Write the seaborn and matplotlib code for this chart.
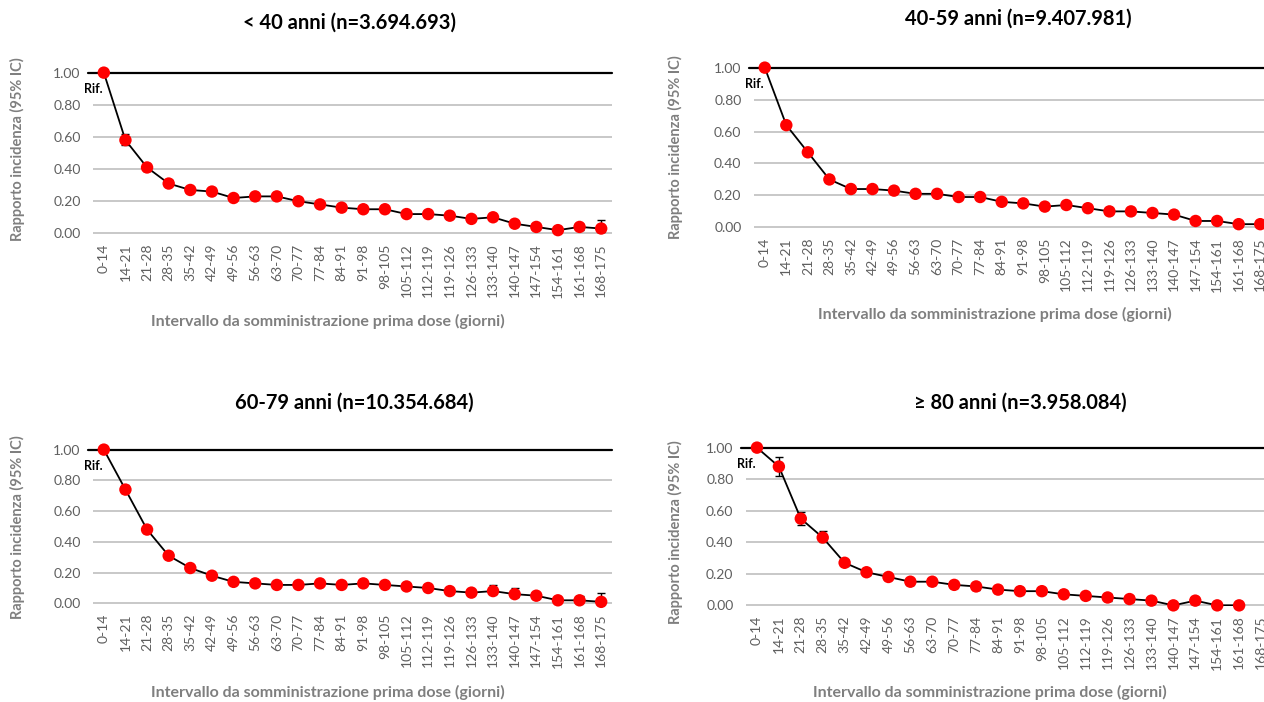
import numpy as np
import pandas as pd
import matplotlib.pyplot as plt
import seaborn as sns

intervalli = ['0-14', '14-21', '21-28', '28-35', '35-42', '42-49', '49-56', '56-63', '63-70',
              '70-77', '77-84', '84-91', '91-98', '98-105', '105-112', '112-119', '119-126',
              '126-133', '133-140', '140-147', '147-154', '154-161', '161-168', '168-175']

titoli = ['< 40 anni (n=3.694.693)', '40-59 anni (n=9.407.981)',
          '60-79 anni (n=10.354.684)', '\u2265 80 anni (n=3.958.084)']

# rapporto incidenza + IC 95%
rr_u40 = [1.00, 0.58, 0.41, 0.31, 0.27, 0.26, 0.22, 0.23, 0.23, 0.20, 0.18, 0.16,
          0.15, 0.15, 0.12, 0.12, 0.11, 0.09, 0.10, 0.06, 0.04, 0.02, 0.04, 0.03]
lo_u40 = [1.00, 0.55, 0.39, 0.30, 0.26, 0.25, 0.21, 0.22, 0.22, 0.19, 0.17, 0.15,
          0.14, 0.14, 0.11, 0.11, 0.10, 0.08, 0.09, 0.05, 0.03, 0.01, 0.02, 0.01]
hi_u40 = [1.00, 0.62, 0.43, 0.33, 0.29, 0.28, 0.23, 0.24, 0.24, 0.21, 0.19, 0.17,
          0.16, 0.16, 0.13, 0.13, 0.12, 0.10, 0.11, 0.07, 0.05, 0.03, 0.05, 0.08]

rr_40 = [1.00, 0.64, 0.47, 0.30, 0.24, 0.24, 0.23, 0.21, 0.21, 0.19, 0.19, 0.16,
         0.15, 0.13, 0.14, 0.12, 0.10, 0.10, 0.09, 0.08, 0.04, 0.04, 0.02, 0.02]
lo_40 = [1.00, 0.62, 0.45, 0.29, 0.23, 0.23, 0.22, 0.20, 0.20, 0.18, 0.18, 0.15,
         0.14, 0.12, 0.13, 0.11, 0.09, 0.09, 0.08, 0.07, 0.03, 0.03, 0.01, 0.01]
hi_40 = [1.00, 0.66, 0.49, 0.31, 0.25, 0.25, 0.24, 0.22, 0.22, 0.20, 0.20, 0.17,
         0.16, 0.14, 0.15, 0.13, 0.11, 0.11, 0.10, 0.09, 0.05, 0.05, 0.03, 0.03]

rr_60 = [1.00, 0.74, 0.48, 0.31, 0.23, 0.18, 0.14, 0.13, 0.12, 0.12, 0.13, 0.12,
         0.13, 0.12, 0.11, 0.10, 0.08, 0.07, 0.08, 0.06, 0.05, 0.02, 0.02, 0.01]
lo_60 = [1.00, 0.72, 0.46, 0.30, 0.22, 0.17, 0.13, 0.12, 0.11, 0.11, 0.12, 0.11,
         0.12, 0.11, 0.10, 0.09, 0.07, 0.06, 0.06, 0.04, 0.04, 0.01, 0.01, 0.00]
hi_60 = [1.00, 0.77, 0.50, 0.32, 0.24, 0.19, 0.15, 0.14, 0.13, 0.13, 0.14, 0.13,
         0.14, 0.13, 0.12, 0.11, 0.09, 0.09, 0.12, 0.10, 0.06, 0.03, 0.05, 0.07]

rr_80 = [1.00, 0.88, 0.55, 0.43, 0.27, 0.21, 0.18, 0.15, 0.15, 0.13, 0.12, 0.10,
         0.09, 0.09, 0.07, 0.06, 0.05, 0.04, 0.03, 0.00, 0.03, 0.00, 0.00, np.nan]
lo_80 = [1.00, 0.82, 0.51, 0.40, 0.25, 0.19, 0.16, 0.13, 0.13, 0.11, 0.10, 0.08,
         0.07, 0.07, 0.05, 0.04, 0.03, 0.02, 0.01, 0.00, 0.01, 0.00, 0.00, np.nan]
hi_80 = [1.00, 0.94, 0.59, 0.47, 0.29, 0.23, 0.20, 0.17, 0.17, 0.15, 0.14, 0.12,
         0.11, 0.11, 0.09, 0.08, 0.07, 0.06, 0.05, 0.01, 0.05, 0.01, 0.01, np.nan]

W, H = 1264, 702
GREY = '#7f7f7f'
TICK = '#5f5f5f'


def px_box(x0, x1, ytop, ybot):
    return [x0 / W, 1 - ybot / H, (x1 - x0) / W, (ybot - ytop) / H]


def draw_panel(ax, rr, lo, hi):
    df = pd.DataFrame({'pos': np.arange(len(intervalli)), 'rr': rr, 'lo': lo, 'hi': hi}).dropna()
    ax.axhline(1.0, xmin=-0.01, color='black', lw=1.6, zorder=2, clip_on=False)
    ax.errorbar(df['pos'], df['rr'], yerr=[df['rr'] - df['lo'], df['hi'] - df['rr']],
                fmt='none', ecolor='black', elinewidth=1, capsize=3, capthick=1, zorder=3)
    sns.lineplot(data=df, x='pos', y='rr', color='black', lw=1.3, ax=ax, zorder=3)
    sns.scatterplot(data=df, x='pos', y='rr', color='#ff0000', s=80, edgecolor='none',
                    ax=ax, zorder=4, clip_on=False)
    ax.annotate('Rif.', xy=(0, 1.0), xytext=(-1, -12), textcoords='offset points',
                ha='right', va='center', fontsize=9, fontweight='bold', color='black')
    ax.set_xlim(-0.5, len(intervalli) - 0.5)
    ax.set_ylim(-0.004, 1.004)
    ax.set_xticks(np.arange(len(intervalli)))
    ax.set_xticklabels(intervalli, rotation=90, fontsize=10, color=TICK)
    ax.set_yticks([0, 0.2, 0.4, 0.6, 0.8, 1.0])
    ax.set_yticklabels(['%.2f' % v for v in [0, 0.2, 0.4, 0.6, 0.8, 1.0]], fontsize=10, color=TICK)
    ax.tick_params(axis='both', length=0)
    ax.tick_params(axis='y', pad=9)
    ax.tick_params(axis='x', pad=7)
    ax.yaxis.grid(True, color='#c4c4c4', lw=1.3)
    ax.xaxis.grid(False)
    ax.set_axisbelow(True)
    for s in ax.spines.values():
        s.set_visible(False)
    ax.set_xlabel('')
    ax.set_ylabel('')


sns.set_style('white')
plt.rcParams['font.family'] = ['Lato', 'DejaVu Sans']

fig = plt.figure(figsize=(W / 100, H / 100), dpi=100)

panels = [
    (rr_u40, lo_u40, hi_u40, px_box(93, 612, 72, 234), (350, 23), (328, 321), (17, 149)),
    (rr_40, lo_40, hi_40, px_box(754, 1271, 67, 228), (1018, 19), (995, 314), (675, 147)),
    (rr_60, lo_60, hi_60, px_box(93, 612, 449, 604), (354, 403), (328, 692), (17, 527)),
    (rr_80, lo_80, hi_80, px_box(746, 1272, 447, 606), (1020, 403), (990, 692), (675, 532)),
]

for i, (rr, lo, hi, box, tpos, xpos, ypos) in enumerate(panels):
    ax = fig.add_axes(box)
    draw_panel(ax, rr, lo, hi)
    fig.text(tpos[0] / W, 1 - tpos[1] / H, titoli[i], ha='center', va='center',
             fontsize=14.5, fontweight='bold', color='black')
    fig.text(xpos[0] / W, 1 - xpos[1] / H, 'Intervallo da somministrazione prima dose (giorni)',
             ha='center', va='center', fontsize=11.5, fontweight='bold', color=GREY)
    fig.text(ypos[0] / W, 1 - ypos[1] / H, 'Rapporto incidenza (95% IC)', ha='center', va='center',
             rotation=90, fontsize=10.5, fontweight='bold', color=GREY)

fig.savefig('out.png', dpi=100)
